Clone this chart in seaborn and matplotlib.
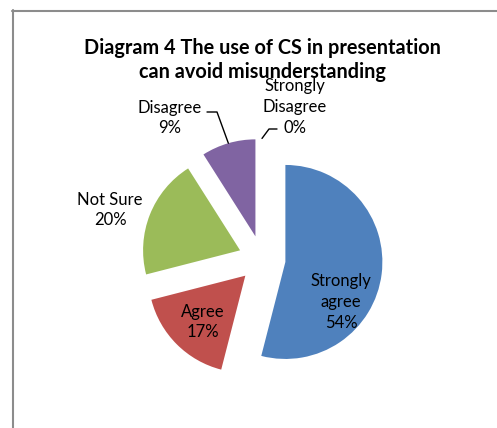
import matplotlib
matplotlib.use('Agg')
import matplotlib.pyplot as plt
import seaborn as sns
import numpy as np
from matplotlib.lines import Line2D

sns.set_theme(style='white')
plt.rcParams['font.family'] = ['Lato', 'DejaVu Sans']

# data
answers = ['Strongly\nagree', 'Agree', 'Not Sure', 'Disagree', 'Strongly\nDisagree']
percent = [54, 17, 20, 9, 0]
slice_colors = ['#4F81BD', '#C0504D', '#9BBB59', '#8064A2', '#4BACC6']
title_text = 'Diagram 4 The use of CS in presentation\ncan avoid misunderstanding'

# layout (image pixels)
W, H = 497, 428
cx, cy, rad = 262, 259, 97
label_spots = [(341, 302), (203, 322), (110, 210), (170, 118), (295, 107)]
leaders = {3: [(207, 112), (217, 112)], 4: [(277, 129), (269, 129)]}


def to_data(x, y):
    return (x - cx) / rad, (cy - y) / rad


fig = plt.figure(figsize=(W / 100, H / 100), dpi=100)
ax = fig.add_axes([0, 0, 1, 1])

wedges, _ = ax.pie(percent, colors=slice_colors, startangle=90, counterclock=False,
                   explode=[0.243] * len(percent), radius=1,
                   wedgeprops=dict(linewidth=0))
ax.set_aspect('auto')
ax.set_xlim(-cx / rad, (W - cx) / rad)
ax.set_ylim(-(H - cy) / rad, cy / rad)
ax.axis('off')

for i, (name, p) in enumerate(zip(answers, percent)):
    tx, ty = to_data(*label_spots[i])
    ax.text(tx, ty, f'{name}\n{p}%', ha='center', va='center', fontsize=12,
            linespacing=1.35, color='black')

for i, pts in leaders.items():
    w = wedges[i]
    mid = np.deg2rad((w.theta1 + w.theta2) / 2)
    end = (w.center[0] + w.r * np.cos(mid), w.center[1] + w.r * np.sin(mid))
    xs = [to_data(*pt)[0] for pt in pts] + [end[0]]
    ys = [to_data(*pt)[1] for pt in pts] + [end[1]]
    ax.plot(xs, ys, color='black', lw=1)

fig.text(262 / W, 1 - 59.5 / H, title_text, ha='center', va='center',
         fontsize=14.3, fontweight='bold', linespacing=1.25, color='black')

# chart frame (only left and top are visible in the crop)
fig.add_artist(Line2D([12.5 / W, 12.5 / W], [0, 1 - 10 / H], transform=fig.transFigure,
                      color='#8c8c8c', lw=1.5))
fig.add_artist(Line2D([12 / W, 1], [1 - 10.5 / H, 1 - 10.5 / H], transform=fig.transFigure,
                      color='#8c8c8c', lw=1.5))

fig.savefig('out.png', dpi=100)
